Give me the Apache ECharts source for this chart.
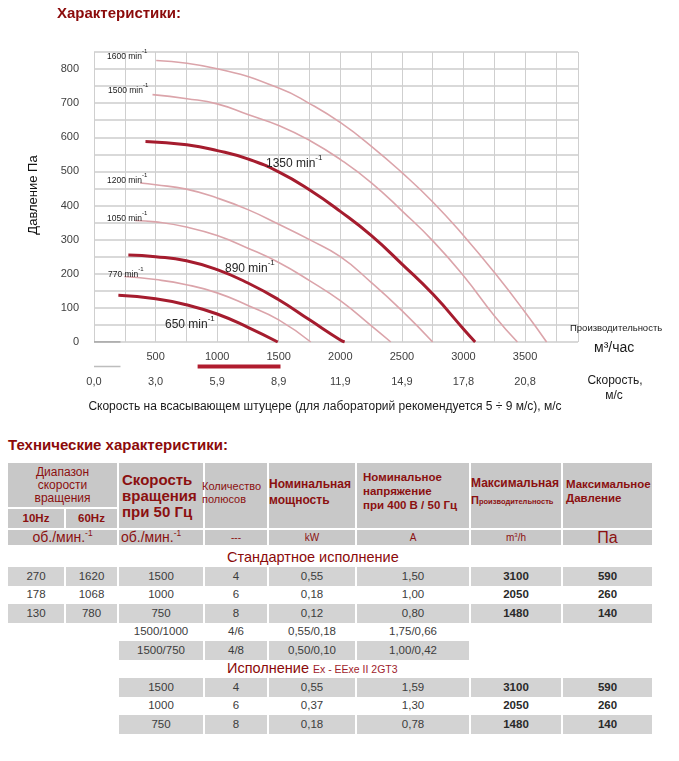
<!DOCTYPE html>
<html><head><meta charset="utf-8">
<script src="https://cdn.jsdelivr.net/npm/echarts@6/dist/echarts.min.js"></script>
<style>
html,body{margin:0;padding:0;background:#fff;width:679px;height:761px;overflow:hidden;font-family:"Liberation Sans",Arial,sans-serif}
#chart{position:absolute;left:0;top:0;width:679px;height:425px}
#ttitle{position:absolute;left:8px;top:436px;font-size:15px;font-weight:bold;color:#8b0a0a;white-space:nowrap}
#tbl{position:absolute;left:8px;top:463px;border-collapse:separate;border-spacing:0;table-layout:fixed;width:646px}
#tbl td{padding:0;overflow:visible;white-space:nowrap;text-align:center;vertical-align:middle;line-height:13px}
#tbl td.h{background:#c8c8c8;color:#8b1010;border-right:2px solid #fff;border-bottom:2px solid #fff}
#tbl td.g{background:#d3d3d3;border-right:2px solid #fff}
#tbl td.w{background:#fff;border-right:2px solid #fff}
#tbl td.e{background:#fff}
#tbl td.d{font-size:11.5px;color:#3c3c3c}
#tbl td.b{font-weight:bold;color:#2a2a2a}
#tbl td.sec{color:#8b0a0a;font-size:14.5px;text-align:left;padding-left:219px;background:#fff}
sup{font-size:60%;line-height:0;vertical-align:super}
</style></head>
<body>
<div id="chart"></div>
<div id="ttitle">Технические характеристики:</div>
<table id="tbl"></table>
<script>
// ---------- chart data ----------
const yTickLabels = [0,100,200,300,400,500,600,700,800];
const flowTicks = [500,1000,1500,2000,2500,3000,3500];
const speedTickLabels = ['0,0','3,0','5,9','8,9','11,9','14,9','17,8','20,8'];
const speedPerFlow = 20.8 / 3500;          // м/с per м3/ч (from tick labels)
const recommendedSpeed = [5, 9];           // м/с
const rpm1600 = [[505,825],[1000,801],[1505,744],[1755,698],[2005,642],[2255,573],[2505,495],[2755,409],[3005,310],[3255,202],[3505,85],[3675,0]];
const rpm1500 = [[475,725],[755,713],[1000,698],[1255,666],[1505,634],[1755,590],[2005,534],[2255,466],[2505,383],[2755,295],[3005,192],[3255,75],[3438,0]];
const rpm1350 = [[418,588],[753,578],[1002,561],[1254,536],[1503,498],[1755,445],[2000,383],[2255,311],[2505,227],[2755,139],[3005,36],[3095,0]];
const rpm1200 = [[375,466],[500,461],[750,448],[1000,422],[1250,388],[1500,345],[1750,300],[2000,250],[2250,175],[2500,92],[2750,0]];
const rpm1050 = [[333,356],[500,352],[750,337],[1000,312],[1250,275],[1500,233],[1750,180],[2000,121],[2250,48],[2410,0]];
const rpm890  = [[279,255],[500,250],[750,238],[1000,212],[1250,173],[1500,124],[1750,65],[2000,6],[2035,0]];
const rpm770  = [[246,192],[500,183],[750,168],[1000,144],[1250,107],[1500,65],[1760,0]];
const rpm650  = [[198,137],[500,127],[750,109],[1000,82],[1250,43],[1492,0]];
const axisStub = [[0,0],[215,0]];

// ---------- table data ----------
const stdRows = [
 ['270','1620','1500','4','0,55','1,50','3100','590'],
 ['178','1068','1000','6','0,18','1,00','2050','260'],
 ['130','780','750','8','0,12','0,80','1480','140']];
const stdDualRows = [
 ['1500/1000','4/6','0,55/0,18','1,75/0,66'],
 ['1500/750','4/8','0,50/0,10','1,00/0,42']];
const exRows = [
 ['1500','4','0,55','1,59','3100','590'],
 ['1000','6','0,37','1,30','2050','260'],
 ['750','8','0,18','0,78','1480','140']];

const THICK = '#a51c2e', THIN = '#dba4aa';
function curve(data, thick){
  return {type:'line', xAxisIndex:0, yAxisIndex:0, data:data, smooth:0.5, symbol:'none', silent:true,
    lineStyle:{color: thick?THICK:THIN, width: thick?3:1.6}, z: thick?4:3};
}
const FONT = '"Liberation Sans", Arial, sans-serif';
function rpmLabel(x, y, rpm, big){
  const fs = big?12:8.5;
  return {type:'text', x:x, y:y, z:10, style:{
    text:'{a|'+rpm+' min}{s|-1}', verticalAlign:'middle',
    rich:{a:{fontSize:fs, fill:big?'#262626':'#1a1a1a', fontFamily:FONT, verticalAlign:'bottom', lineHeight:fs+4},
          s:{fontSize:big?8:6, fill:big?'#262626':'#1a1a1a', fontFamily:FONT, verticalAlign:'top', lineHeight:fs+4}}}};
}
function txt(x,y,t,fs,opt){
  return {type:'text', x:x, y:y, z:10, style:Object.assign({text:t, fontSize:fs, fontFamily:FONT, fill:'#1a1a1a', verticalAlign:'middle', align:'left'}, opt||{})};
}

const X_MAX = 3930;
const chart = echarts.init(document.getElementById('chart'), null, {renderer:'canvas'});
chart.setOption({
  animation:false,
  backgroundColor:'#fff',
  grid:[{left:94, top:52, width:484, height:290, show:false},
        {left:94, top:363, width:484, height:7, show:false}],
  xAxis:[{type:'value', gridIndex:0, min:0, max:X_MAX, interval:250,
     axisLine:{show:false}, axisTick:{show:false},
     axisLabel:{show:true, margin:9, fontSize:11, color:'#404040', fontFamily:FONT,
       formatter:v => flowTicks.indexOf(v) >= 0 ? String(v) : ''},
     splitLine:{show:true, lineStyle:{color:'#cfcfcf', width:1, type:'solid'}}},
    {type:'value', gridIndex:1, min:0, max:X_MAX, interval:500,
     axisLine:{show:false}, axisTick:{show:false}, splitLine:{show:false},
     axisLabel:{margin:6, fontSize:11, color:'#404040', fontFamily:FONT,
       formatter:v => { const i = Math.round(v/500); return (v % 500 === 0 && speedTickLabels[i]) ? speedTickLabels[i] : ''; }}}],
  yAxis:[{type:'value', gridIndex:0, min:0, max:850, interval:50,
     axisLine:{show:false}, axisTick:{show:false},
     axisLabel:{margin:15, fontSize:11, color:'#404040', fontFamily:FONT,
       formatter:v => yTickLabels.indexOf(v) >= 0 ? String(v) : ''},
     splitLine:{show:true, lineStyle:{color:'#d9d9d9', width:2, type:'solid'}}},
    {type:'value', gridIndex:1, min:0, max:1, show:false, splitLine:{show:false}}],
  series:[
    {type:'line', xAxisIndex:0, yAxisIndex:0, data:axisStub, symbol:'none', silent:true, lineStyle:{color:'#a0a0a0', width:1.5}, z:2},
    curve(rpm1600,false), curve(rpm1500,false), curve(rpm1200,false), curve(rpm1050,false), curve(rpm770,false),
    curve(rpm1350,true), curve(rpm890,true), curve(rpm650,true),
    {type:'line', xAxisIndex:1, yAxisIndex:1, symbol:'none', silent:true,
     data: recommendedSpeed.map(s => [s / speedPerFlow, 0.5]), lineStyle:{color:'#b01c2e', width:4}},
    {type:'line', xAxisIndex:1, yAxisIndex:1, symbol:'none', silent:true,
     data: axisStub.map(p => [p[0], 0.5]), lineStyle:{color:'#bdbdbd', width:1.5}}
  ],
  graphic:[
    txt(57,14,'Характеристики:',15,{fontWeight:'bold', fill:'#8b0a0a'}),
    {type:'text', x:33, y:195, rotation:Math.PI/2, z:10, style:{text:'Давление Па', fontSize:13, fontFamily:FONT, fill:'#111', align:'center', verticalAlign:'middle'}},
    rpmLabel(107,55,1600,false), rpmLabel(108,89,1500,false), rpmLabel(107,179,1200,false),
    rpmLabel(107,217,1050,false), rpmLabel(108,273,770,false),
    rpmLabel(266,162,1350,true), rpmLabel(225,267,890,true), rpmLabel(165,323,650,true),
    txt(570,328,'Производительность',9.5),
    txt(594,348,'м³/час',14),
    txt(615,381,'Скорость,',12,{align:'center'}),
    txt(614,396,'м/с',12,{align:'center'}),
    txt(325,407,'Скорость на всасывающем штуцере (для лабораторий рекомендуется 5 ÷ 9 м/с), м/с',12,{align:'center'})
  ]
});

// ---------- table ----------
const colWidths = [58,53,86,64,88,114,92,91];
let h = '<colgroup>' + colWidths.map(w => '<col style="width:'+w+'px">').join('') + '</colgroup>';
h += '<tr style="height:46px">'
  + '<td colspan="2" class="h" style="font-size:12px">Диапазон<br>скорости<br>вращения</td>'
  + '<td rowspan="2" class="h" style="font-size:15px;font-weight:bold;text-align:left;padding-left:3px;line-height:16px">Скорость<br>вращения<br>при 50 Гц</td>'
  + '<td rowspan="2" class="h" style="font-size:11px;text-align:left;padding-bottom:6px"><div style="margin-left:-3px">Количество<br>полюсов</div></td>'
  + '<td rowspan="2" class="h" style="font-size:12px;font-weight:bold;text-align:left;padding-bottom:8px;line-height:16px">Номинальная<br>мощность</td>'
  + '<td rowspan="2" class="h" style="font-size:11.5px;font-weight:bold;text-align:left;padding-left:6px;padding-bottom:10px;line-height:14px">Номинальное<br>напряжение<br>при 400 В / 50 Гц</td>'
  + '<td rowspan="2" class="h" style="font-weight:bold;text-align:left;padding-bottom:8px;line-height:15px"><span style="font-size:12px">Максимальная</span><br><span style="font-size:11px">П</span><span style="font-size:7.5px">роизводительность</span></td>'
  + '<td rowspan="2" class="h" style="font-size:11.5px;font-weight:bold;text-align:left;padding-left:3px;padding-bottom:10px;line-height:14px">Максимальное<br>Давление</td>'
  + '</tr>';
h += '<tr style="height:21px"><td class="h" style="font-size:11.5px;font-weight:bold">10Hz</td><td class="h" style="font-size:11.5px;font-weight:bold">60Hz</td></tr>';
h += '<tr style="height:17px">'
  + '<td colspan="2" class="h" style="font-size:14px">об./мин.<sup>-1</sup></td>'
  + '<td class="h" style="font-size:14px;text-align:left;padding-left:2px">об./мин.<sup>-1</sup></td>'
  + '<td class="h" style="font-size:10px">---</td>'
  + '<td class="h" style="font-size:10px">kW</td>'
  + '<td class="h" style="font-size:10px">A</td>'
  + '<td class="h" style="font-size:10px">m<sup>3</sup>/h</td>'
  + '<td class="h" style="font-size:16px">Па</td></tr>';
h += '<tr style="height:20px"><td colspan="8" class="sec">Стандартное исполнение</td></tr>';
function row(cells, gray, lead, trail){
  let s = '<tr style="height:18.5px">';
  for(let i=0;i<lead;i++) s += '<td class="e"></td>';
  cells.forEach((c, i) => {
    const col = lead + i;
    s += '<td class="'+(gray?'g':'w')+' d'+(col>=6?' b':'')+'">'+c+'</td>';
  });
  for(let i=0;i<trail;i++) s += '<td class="e"></td>';
  return s + '</tr>';
}
stdRows.forEach((r,i) => { h += row(r, i%2===0, 0, 0); });
stdDualRows.forEach((r,i) => { h += row(r, i%2===1, 2, 2); });
h += '<tr style="height:18.5px"><td colspan="8" class="sec"><span style="font-size:14.5px">Исполнение </span><span style="font-size:10.5px;color:#a01c2c">Ex - EExe II 2GT3</span></td></tr>';
exRows.forEach((r,i) => { h += row(r, i%2===0, 2, 0); });
document.getElementById('tbl').innerHTML = h;
</script>
</body></html>
